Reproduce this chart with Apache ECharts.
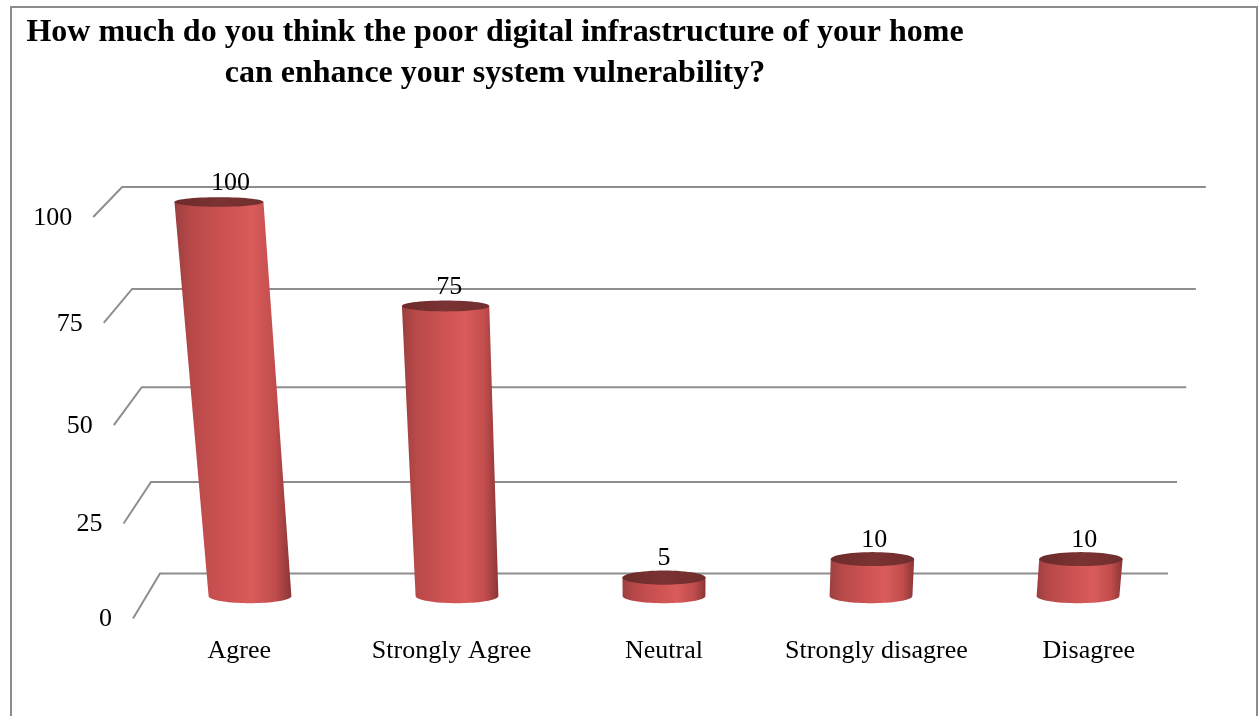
<!DOCTYPE html>
<html>
<head>
<meta charset="utf-8">
<title>Poor digital infrastructure and system vulnerability</title>
<script src="https://cdn.jsdelivr.net/npm/echarts@6/dist/echarts.min.js"></script>
<style>
  html, body { margin: 0; padding: 0; background: #ffffff; }
  #chart { width: 1260px; height: 716px; }
</style>
</head>
<body>
<div id="chart"></div>
<script>
// ---- data ----
const categories = ['Agree', 'Strongly Agree', 'Neutral', 'Strongly disagree', 'Disagree'];
const values = [100, 75, 5, 10, 10];
const yTicks = [0, 25, 50, 75, 100];
const titleLines = [
  'How much do you think the poor digital infrastructure of your home',
  'can enhance your system vulnerability?'
];

// ---- 3D look: perspective parameters ----
const Y_MAX = 100;
const WARP = 0.07;         // vertical foreshortening of the value axis
const SPREAD = 0.075;      // horizontal widening toward the top
const DEPTH_SCALE = 0.026; // horizontal scale change per unit of depth
const DEPTH_DY0 = 22.5;    // vertical offset per unit of depth at the floor
const DEPTH_DY1 = 7.5;     // reduction of that offset at the top
const RY = 0.32;           // ellipse half-height in depth units
const BAR_RATIO = 0.2;     // cylinder radius as share of the band width
const FONT = '"Liberation Serif", "Times New Roman", serif';

// Builds a perspective mapping on top of the cartesian coordinates.
function projector(api) {
  const a = api.coord([0, 0]);
  const b = api.coord([categories.length - 1, 0]);
  const top = api.coord([0, Y_MAX]);
  const y0 = a[1];
  const h = a[1] - top[1];
  const cx = (a[0] + b[0]) / 2;
  const band = api.size([1, 0])[0];
  function at(x, y, d) {
    const t = (y0 - y) / h;
    const g = t * (1 - WARP) / (1 - WARP * t);
    const k = (1 + SPREAD * g) * (1 + DEPTH_SCALE * d);
    return {
      x: cx + (x - cx) * k,
      y: y0 - h * g + d * (DEPTH_DY0 - DEPTH_DY1 * g),
      k: k,
      g: g
    };
  }
  return { at: at, cx: cx, band: band, left: a[0] - band / 2, right: b[0] + band / 2 };
}

function ellipsePoints(cx, cy, rx, ry, from, to, n) {
  const pts = [];
  for (let i = 0; i <= n; i++) {
    const a = from + (to - from) * i / n;
    pts.push([cx + rx * Math.cos(a), cy + ry * Math.sin(a)]);
  }
  return pts;
}

const bodyFill = new echarts.graphic.LinearGradient(0, 0, 1, 0, [
  { offset: 0, color: '#9c3f3f' },
  { offset: 0.15, color: '#b94949' },
  { offset: 0.42, color: '#cd5252' },
  { offset: 0.66, color: '#d95b5a' },
  { offset: 0.86, color: '#c24d4d' },
  { offset: 1, color: '#8a3535' }
]);
const topFill = new echarts.graphic.LinearGradient(0, 0, 1, 0, [
  { offset: 0, color: '#6c2b2b' },
  { offset: 0.5, color: '#7b3232' },
  { offset: 1, color: '#712e2e' }
]);

const chart = echarts.init(document.getElementById('chart'), null, { renderer: 'canvas' });

chart.setOption({
  backgroundColor: '#ffffff',
  animation: false,
  graphic: [
    {
      type: 'rect',
      shape: { x: 11, y: 7, width: 1246, height: 760 },
      style: { fill: null, stroke: '#8c8c8c', lineWidth: 2 },
      silent: true
    },
    {
      type: 'text',
      x: 495, y: 12,
      style: {
        text: titleLines.join('\n'),
        font: 'bold 32px ' + FONT,
        fill: '#000000',
        align: 'center',
        lineHeight: 41
      }
    }
  ],
  grid: { left: 146.5, right: 78.5, top: 202, bottom: 120 },
  xAxis: {
    type: 'category',
    data: categories,
    show: false
  },
  yAxis: {
    type: 'value',
    min: 0,
    max: Y_MAX,
    interval: 25,
    show: false
  },
  series: [
    // back-wall gridlines with their side-wall returns and tick labels
    {
      type: 'custom',
      clip: false,
      z: 1,
      data: yTicks.map(v => [0, v]),
      encode: { x: 0, y: 1 },
      renderItem: function (params, api) {
        const P = projector(api);
        const v = api.value(1);
        const lin = api.coord([0, v]);
        const bl = P.at(P.left, lin[1], -1);
        const br = P.at(P.right, lin[1], -1);
        const fl = P.at(P.left, lin[1], 1);
        return {
          type: 'group',
          children: [
            {
              type: 'polyline',
              shape: { points: [[fl.x, fl.y], [bl.x, bl.y], [br.x, br.y]] },
              style: { stroke: '#8e8e8e', lineWidth: 2, fill: null }
            },
            {
              type: 'text',
              x: fl.x - 21, y: fl.y + 1,
              style: {
                text: String(v),
                font: '26px ' + FONT,
                fill: '#000000',
                align: 'right',
                verticalAlign: 'middle'
              }
            }
          ]
        };
      }
    },
    // cylinders
    {
      type: 'custom',
      clip: false,
      z: 2,
      data: values.map((v, i) => [i, v]),
      encode: { x: 0, y: 1 },
      renderItem: function (params, api) {
        const P = projector(api);
        const i = api.value(0);
        const v = api.value(1);
        const base = api.coord([i, 0]);
        const tip = api.coord([i, v]);
        const rLin = P.band * BAR_RATIO;
        const b = P.at(base[0], base[1], 0);
        const t = P.at(tip[0], tip[1], 0);
        const rxb = rLin * b.k, rxt = rLin * t.k;
        const ryb = RY * (DEPTH_DY0 - DEPTH_DY1 * b.g);
        const ryt = RY * (DEPTH_DY0 - DEPTH_DY1 * t.g);
        const body = [[b.x - rxb, b.y], [t.x - rxt, t.y], [t.x + rxt, t.y]]
          .concat(ellipsePoints(b.x, b.y, rxb, ryb, 0, Math.PI, 40));
        const cap = ellipsePoints(t.x, t.y, rxt, ryt, 0, Math.PI * 2, 60);
        const labelK = 1 + 0.012 + 0.035 * t.g;
        return {
          type: 'group',
          children: [
            { type: 'polygon', shape: { points: body }, style: { fill: bodyFill } },
            { type: 'polygon', shape: { points: cap }, style: { fill: topFill } },
            {
              type: 'text',
              x: P.cx + (base[0] - P.cx) * labelK,
              y: t.y - 19,
              style: {
                text: String(v),
                font: '26px ' + FONT,
                fill: '#000000',
                align: 'center',
                verticalAlign: 'middle'
              }
            }
          ]
        };
      }
    },
    // category labels on the front edge of the floor
    {
      type: 'custom',
      clip: false,
      z: 3,
      data: categories.map((c, i) => [i, 0]),
      encode: { x: 0, y: 1 },
      renderItem: function (params, api) {
        const P = projector(api);
        const i = api.value(0);
        const p = api.coord([i, 0]);
        const f = P.at(p[0], p[1], 1);
        return {
          type: 'text',
          x: f.x, y: f.y + 33,
          style: {
            text: categories[i],
            font: '26px ' + FONT,
            fill: '#000000',
            align: 'center',
            verticalAlign: 'middle'
          }
        };
      }
    }
  ]
});
</script>
</body>
</html>
